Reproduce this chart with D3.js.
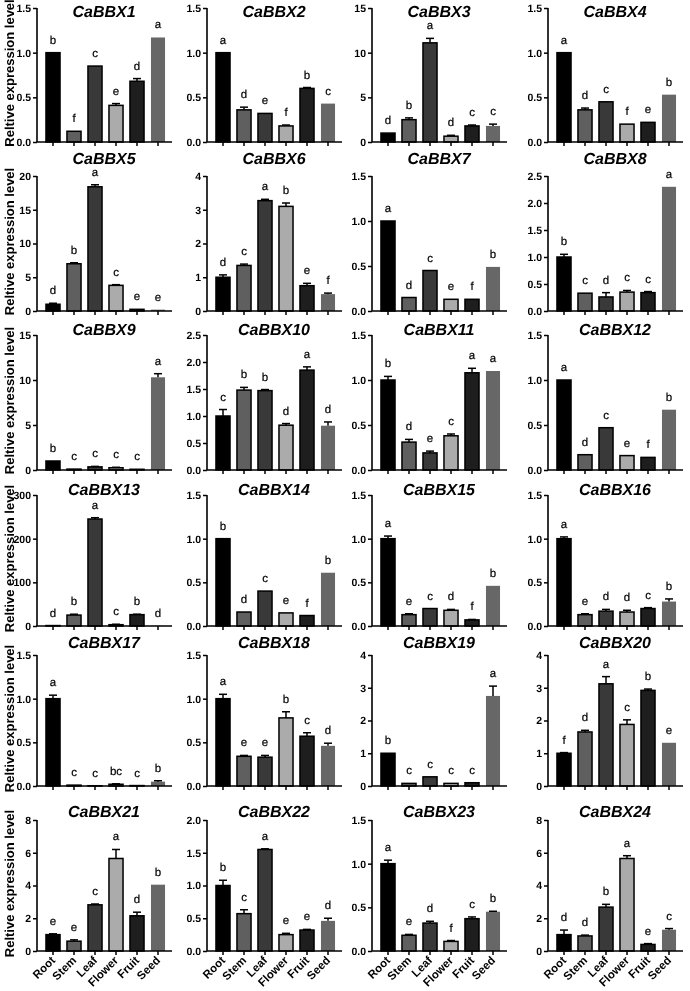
<!DOCTYPE html>
<html>
<head>
<meta charset="utf-8">
<script src="https://cdn.jsdelivr.net/npm/d3@7/dist/d3.min.js"></script>
<style>
  html, body { margin: 0; padding: 0; background: #fff; }
  svg { display: block; font-family: "Liberation Sans", Arial, Helvetica, sans-serif; will-change: transform; }
  svg text { text-rendering: geometricPrecision; }
</style>
</head>
<body>
<svg id="chart" width="690" height="991"></svg>
<script>
// ---------------- DATA ----------------
const tissues = ["Root", "Stem", "Leaf", "Flower", "Fruit", "Seed"];

const genes = [
  "CaBBX1", "CaBBX2", "CaBBX3", "CaBBX4",
  "CaBBX5", "CaBBX6", "CaBBX7", "CaBBX8",
  "CaBBX9", "CaBBX10", "CaBBX11", "CaBBX12",
  "CaBBX13", "CaBBX14", "CaBBX15", "CaBBX16",
  "CaBBX17", "CaBBX18", "CaBBX19", "CaBBX20",
  "CaBBX21", "CaBBX22", "CaBBX23", "CaBBX24"
];

const means = [
  [1.0, 0.12, 0.85, 0.41, 0.68, 1.17],
  [1.0, 0.36, 0.32, 0.18, 0.60, 0.43],
  [1.0, 2.5, 11.1, 0.65, 1.8, 1.8],
  [1.0, 0.36, 0.45, 0.20, 0.22, 0.53],
  [1.0, 7.0, 18.4, 3.8, 0.25, 0.2],
  [1.0, 1.35, 3.27, 3.10, 0.75, 0.50],
  [1.0, 0.15, 0.45, 0.13, 0.13, 0.49],
  [1.0, 0.33, 0.26, 0.35, 0.34, 2.30],
  [1.0, 0.10, 0.35, 0.25, 0.08, 10.3],
  [1.0, 1.48, 1.47, 0.83, 1.85, 0.82],
  [1.0, 0.31, 0.19, 0.38, 1.08, 1.10],
  [1.0, 0.17, 0.47, 0.16, 0.14, 0.67],
  [1.0, 25, 245, 3, 26, 0.5],
  [1.0, 0.16, 0.40, 0.15, 0.12, 0.61],
  [1.0, 0.13, 0.20, 0.18, 0.07, 0.46],
  [1.0, 0.13, 0.17, 0.16, 0.20, 0.28],
  [1.0, 0.01, 0.003, 0.02, 0.005, 0.05],
  [1.0, 0.34, 0.33, 0.78, 0.57, 0.46],
  [1.0, 0.08, 0.28, 0.08, 0.10, 2.75],
  [1.0, 1.65, 3.12, 1.88, 2.92, 1.32],
  [1.0, 0.60, 2.82, 5.65, 2.15, 4.05],
  [1.0, 0.57, 1.55, 0.25, 0.32, 0.46],
  [1.0, 0.18, 0.32, 0.11, 0.37, 0.45],
  [1.0, 0.92, 2.68, 5.65, 0.40, 1.30]
];

const errors = [
  [0, 0, 0, 0.02, 0.03, 0],
  [0, 0.03, 0, 0.01, 0.01, 0],
  [0, 0.2, 0.5, 0.1, 0.1, 0.2],
  [0, 0.02, 0, 0, 0, 0],
  [0.15, 0.15, 0.3, 0.1, 0, 0],
  [0.07, 0.04, 0.04, 0.1, 0.07, 0.03],
  [0, 0, 0, 0, 0, 0],
  [0.05, 0, 0.08, 0.03, 0.02, 0],
  [0, 0, 0.05, 0.05, 0, 0.4],
  [0.12, 0.05, 0.02, 0.03, 0.06, 0.07],
  [0.04, 0.03, 0.02, 0.02, 0.05, 0],
  [0, 0, 0, 0, 0, 0],
  [0, 2, 3, 1, 1, 0],
  [0, 0, 0, 0, 0, 0],
  [0.03, 0.01, 0, 0.01, 0.005, 0],
  [0.02, 0.01, 0.02, 0.02, 0.01, 0.03],
  [0.04, 0, 0, 0.005, 0, 0.01],
  [0.05, 0.01, 0.02, 0.07, 0.04, 0.03],
  [0, 0, 0, 0, 0, 0.3],
  [0.02, 0.05, 0.22, 0.14, 0.04, 0],
  [0.05, 0.08, 0.05, 0.55, 0.22, 0],
  [0.08, 0.06, 0.01, 0.02, 0.01, 0.04],
  [0.04, 0.01, 0.02, 0.01, 0.02, 0.005],
  [0.28, 0.05, 0.17, 0.17, 0.05, 0.07]
];

const letters = [
  ["b", "f", "c", "e", "d", "a"],
  ["a", "d", "e", "f", "b", "c"],
  ["d", "b", "a", "d", "c", "c"],
  ["a", "d", "c", "f", "e", "b"],
  ["d", "b", "a", "c", "e", "e"],
  ["d", "c", "a", "b", "e", "f"],
  ["a", "d", "c", "e", "f", "b"],
  ["b", "c", "d", "c", "c", "a"],
  ["b", "c", "c", "c", "c", "a"],
  ["c", "b", "b", "d", "a", "d"],
  ["b", "d", "e", "c", "a", "a"],
  ["a", "d", "c", "e", "f", "b"],
  ["d", "b", "a", "c", "b", "d"],
  ["b", "d", "c", "e", "f", "b"],
  ["a", "e", "c", "d", "f", "b"],
  ["a", "e", "d", "d", "c", "b"],
  ["a", "c", "c", "bc", "c", "b"],
  ["a", "e", "e", "b", "c", "d"],
  ["b", "c", "c", "c", "c", "a"],
  ["f", "d", "a", "c", "b", "e"],
  ["e", "e", "c", "a", "d", "b"],
  ["b", "c", "a", "e", "e", "d"],
  ["a", "e", "d", "f", "c", "b"],
  ["d", "d", "b", "a", "e", "c"]
];

const yMax = [1.5, 1.5, 15, 1.5, 20, 4, 1.5, 2.5, 15, 2.5, 1.5, 1.5,
              300, 1.5, 1.5, 1.5, 1.5, 1.5, 4, 4, 8, 2.0, 1.5, 8];
const yStep = [0.5, 0.5, 5, 0.5, 5, 1, 0.5, 0.5, 5, 0.5, 0.5, 0.5,
               100, 0.5, 0.5, 0.5, 0.5, 0.5, 1, 1, 2, 0.5, 0.5, 2];

const yTitle = "Reltive expression level";

// ---------------- STYLE / LAYOUT ----------------
const barFill = ["#000000", "#5f5f5f", "#393939", "#ababab", "#1e1e1e", "#676767"];
const barStroke = ["#000", "#000", "#000", "#000", "#000", "none"];

const colAxisX = [37, 207, 372, 548];
const rowTop = [8, 176, 335, 495, 655, 820];
const rowBase = [142, 311, 470, 626, 786, 951];
const rowTitleY = [10.5, 158, 329, 489, 641.5, 811];
const plotW = 135;

const svg = d3.select("#chart");

genes.forEach((g, i) => {
  const col = i % 4, row = Math.floor(i / 4);
  const x0 = colAxisX[col];
  const top = rowTop[row], base = rowBase[row];

  const gp = svg.append("g").attr("transform", `translate(${x0},0)`);

  const x = d3.scaleBand().domain(tissues).range([5.5, 131.5]).paddingInner(0.33).paddingOuter(0.165);
  const y = d3.scaleLinear().domain([0, yMax[i]]).range([base, top]);

  const dec = yStep[i] < 1;
  const ticks = d3.range(0, yMax[i] + yStep[i] / 2, yStep[i]);

  const data = tissues.map((t, k) => ({ t, k, v: means[i][k], e: errors[i][k], l: letters[i][k] }));

  gp.selectAll("rect.bar").data(data).enter().append("rect")
    .attr("class", "bar")
    .attr("x", d => x(d.t))
    .attr("width", x.bandwidth())
    .attr("y", d => y(d.v))
    .attr("height", d => Math.max(0, base - y(d.v)))
    .attr("fill", d => barFill[d.k])
    .attr("stroke", d => barStroke[d.k])
    .attr("stroke-width", 1.5);

  const eb = data.filter(d => d.e > 0);
  gp.selectAll("line.err").data(eb).enter().append("line")
    .attr("x1", d => x(d.t) + x.bandwidth() / 2)
    .attr("x2", d => x(d.t) + x.bandwidth() / 2)
    .attr("y1", d => y(d.v))
    .attr("y2", d => y(d.v + d.e))
    .attr("stroke", "#000").attr("stroke-width", 1.5);
  gp.selectAll("line.cap").data(eb).enter().append("line")
    .attr("x1", d => x(d.t) + x.bandwidth() / 2 - 4)
    .attr("x2", d => x(d.t) + x.bandwidth() / 2 + 4)
    .attr("y1", d => y(d.v + d.e))
    .attr("y2", d => y(d.v + d.e))
    .attr("stroke", "#000").attr("stroke-width", 1.5);

  gp.selectAll("text.let").data(data).enter().append("text")
    .attr("x", d => x(d.t) + x.bandwidth() / 2)
    .attr("y", d => y(d.v + d.e) - 9)
    .attr("text-anchor", "middle")
    .attr("font-size", 11.5)
    .attr("fill", "#000")
    .attr("stroke", "#000").attr("stroke-width", 0.2)
    .text(d => d.l);

  const yAxis = d3.axisLeft(y).tickValues(ticks).tickSize(4).tickPadding(2)
    .tickFormat(d => dec ? d3.format(".1f")(d) : d3.format("d")(d));
  const ya = gp.append("g").call(yAxis);
  ya.select(".domain").attr("d", `M0,${top}V${base}`).attr("stroke-width", 1.6);
  ya.selectAll(".tick line").attr("stroke-width", 1.5);
  ya.selectAll("text").attr("font-size", 10.5).attr("font-weight", "bold")
    .attr("font-family", "Liberation Sans, Arial, sans-serif").attr("fill", "#000");

  const xAxis = d3.axisBottom(x).tickSize(4).tickFormat(row === 5 ? (d => d) : "");
  const xa = gp.append("g").attr("transform", `translate(0,${base})`).call(xAxis);
  xa.select(".domain").attr("d", `M0,0H${plotW}`).attr("stroke-width", 1.6);
  xa.selectAll(".tick line").attr("stroke-width", 1.5);
  if (row === 5) {
    xa.selectAll("text")
      .attr("font-size", 11.5).attr("font-weight", "bold")
      .attr("font-family", "Liberation Sans, Arial, sans-serif").attr("fill", "#000")
      .attr("text-anchor", "end")
      .attr("dy", null).attr("y", null)
      .attr("transform", "translate(3,10) rotate(-45)");
  }

  gp.append("text")
    .attr("x", 67).attr("y", rowTitleY[row] + 6)
    .attr("text-anchor", "middle")
    .attr("font-size", 16).attr("font-weight", "bold").attr("font-style", "italic")
    .attr("fill", "#000")
    .text(g);

  if (col === 0) {
    const cy = (top + base) / 2 - 2;
    svg.append("text")
      .attr("transform", `translate(14,${cy}) rotate(-90)`)
      .attr("text-anchor", "middle")
      .attr("font-size", 13).attr("font-weight", "bold")
      .attr("fill", "#000")
      .text(yTitle);
  }
});
</script>
</body>
</html>
